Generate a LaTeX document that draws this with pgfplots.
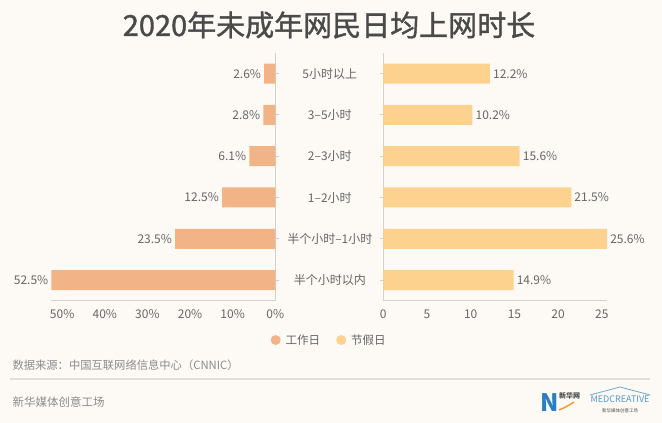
\documentclass[border=0pt]{standalone}
\usepackage{pgfplots}
\pgfplotsset{compat=1.18}
\usepackage{fontspec}
\setmainfont{Noto Sans CJK SC}
\newfontfamily\titlefont{Noto Sans CJK SC}[FakeBold=1.3]
\definecolor{bg}{HTML}{FDFAF5}
\definecolor{workc}{HTML}{F2B487}
\definecolor{holc}{HTML}{FDD28E}
\definecolor{txt}{HTML}{666666}
\definecolor{ttl}{HTML}{4A4A4A}
\definecolor{axc}{HTML}{D4D1CC}
\definecolor{srcc}{HTML}{8C8C8C}
\definecolor{logob}{HTML}{2A7FC0}
\begin{document}
\begin{tikzpicture}[x=1pt,y=1pt]
\fill[bg] (0,0) rectangle (662,423);
\path[use as bounding box] (0,0) rectangle (662,423);
\node[font=\fontsize{29}{32}\titlefont, text=ttl] at (329,398) {2020年未成年网民日均上网时长};
\pgfplotsset{
  common/.style={
    scale only axis, height=247.7pt, ymin=-0.5, ymax=5.5,
    xbar, bar width=20pt, clip=false,
    axis x line*=bottom,
    axis line style={draw=axc, line width=1.2pt},
    ytick={0,...,5},
    xtick style={draw=none},
    ytick style={draw=axc, line width=1pt},
    major tick length=3.5pt, tick align=outside,
    tick label style={font=\fontsize{12}{14}\selectfont, text=txt},
    xticklabel style={yshift=-2pt},
    point meta=explicit symbolic,
    nodes near coords,
    every node near coord/.append style={font=\fontsize{12}{14}\selectfont, text=txt, inner sep=3pt},
  }
}
\begin{axis}[common, at={(51.5pt,122.3pt)}, anchor=south west, width=223.8pt,
  x dir=reverse, xmin=0, xmax=52.5, axis y line*=right,
  yticklabels={},
  xtick={0,10,20,30,40,50},
  xticklabels={0\%,10\%,20\%,30\%,40\%,50\%},
  nodes near coords style={anchor=east},
]
\addplot[fill=workc, draw=none] coordinates {
  (52.5,0) [52.5\%]
  (23.5,1) [23.5\%]
  (12.5,2) [12.5\%]
  (6.1,3) [6.1\%]
  (2.8,4) [2.8\%]
  (2.6,5) [2.6\%]
};
\end{axis}
\begin{axis}[common, at={(383.3pt,122.3pt)}, anchor=south west, width=223.8pt,
  xmin=0, xmax=25.6, axis y line*=left,
  xtick={0,5,10,15,20,25},
  xticklabels={0,5,10,15,20,25},
  yticklabels={半个小时以内,半个小时–1小时,1–2小时,2–3小时,3–5小时,5小时以上},
  yticklabel style={anchor=center, xshift=-50pt},
  nodes near coords style={anchor=west},
  legend columns=2,
  legend style={at={(-0.2417,-0.1587)}, anchor=center, draw=none, fill=none,
    font=\fontsize{11.5}{13}\selectfont, text=txt,
    /tikz/every even column/.append style={column sep=14pt}},
  legend image code/.code={\fill[#1, draw=none] (0.2em,0) circle (5pt);},
]
\addlegendimage{fill=workc, draw=none}
\addlegendentry{\hspace{3pt}工作日}
\addplot[fill=holc, draw=none] coordinates {
  (14.9,0) [14.9\%]
  (25.6,1) [25.6\%]
  (21.5,2) [21.5\%]
  (15.6,3) [15.6\%]
  (10.2,4) [10.2\%]
  (12.2,5) [12.2\%]
};
\addlegendentry{\hspace{3pt}节假日}
\end{axis}
\node[anchor=west, font=\fontsize{11.3}{13}\selectfont, text=srcc] at (9,57.3) {数据来源：中国互联网络信息中心（CNNIC）};
\draw[draw=axc!70, line width=1.3pt] (10,44) -- (650,44);
\node[anchor=west, font=\fontsize{11.5}{13}\selectfont, text=srcc] at (9,21.3) {新华媒体创意工场};
% logos (approximate)
\node[font=\fontsize{24}{24}\selectfont\bfseries, text=logob, inner sep=0] at (550,20) {N};
\node[anchor=west, font=\fontsize{7}{8}\selectfont\bfseries, text=ttl, inner sep=0] at (559,27) {新华网};
\draw[orange!80, line width=1.5pt] (559,13) .. controls (566,16) .. (574,21);
\draw[logob!70, line width=0.8pt] (590,28) -- (620,36) -- (650,28);
\node[font=\fontsize{9}{10}\selectfont, text=logob!80, inner sep=0] at (620,24) {MEDCREATIVE};
\node[font=\fontsize{4.5}{5}\selectfont, text=ttl, inner sep=0] at (620,12) {新华媒体创意工场};
\end{tikzpicture}
\end{document}
